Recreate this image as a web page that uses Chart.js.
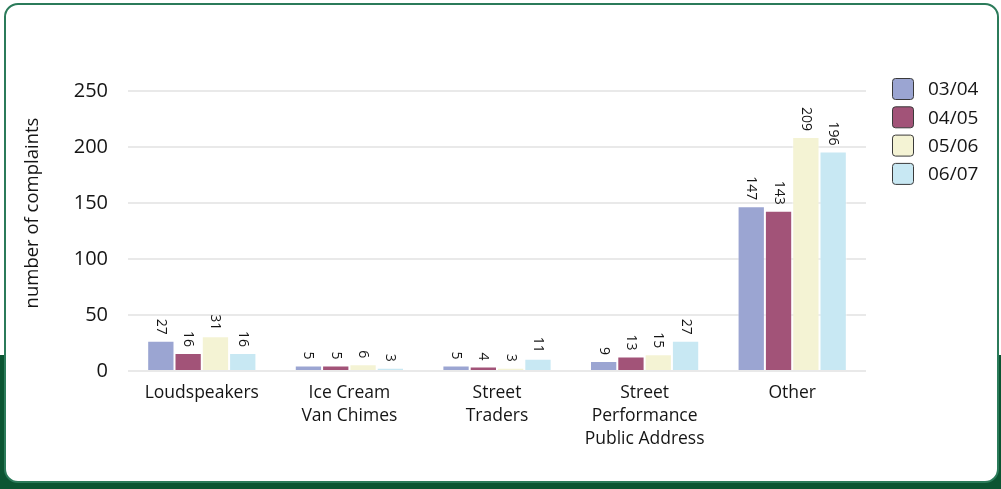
<!DOCTYPE html>
<html>
<head>
<meta charset="utf-8">
<script src="https://cdn.jsdelivr.net/npm/chart.js@4"></script>
<style>
  html, body { margin: 0; padding: 0; width: 1001px; height: 489px; background: #ffffff; overflow: hidden; }
  #band { position: absolute; left: 0; top: 355px; width: 1001px; height: 134px; background: #0b5532; }
  #card { position: absolute; left: 4px; top: 3px; width: 991px; height: 476px; background: #ffffff;
          border: 2px solid #2b7b5a; border-radius: 14px; }
  #wrap { position: absolute; left: 0; top: 0; width: 1001px; height: 489px; }
</style>
</head>
<body>
<div id="band"></div>
<div id="card"></div>
<div id="wrap"><canvas id="c" width="1001" height="489"></canvas></div>
<script>
const categories = [["Loudspeakers"], ["Ice Cream", "Van Chimes"], ["Street", "Traders"], ["Street", "Performance", "Public Address"], ["Other"]];
const seriesNames = ["03/04", "04/05", "05/06", "06/07"];
const values0304 = [27, 5, 5, 9, 147];
const values0405 = [16, 5, 4, 13, 143];
const values0506 = [31, 6, 3, 15, 209];
const values0607 = [16, 3, 11, 27, 196];
const yTicks = [0, 50, 100, 150, 200, 250];
const yTitle = "number of complaints";
const colors = ["#9ba5d2", "#a25378", "#f4f3d4", "#c8e8f3"];

const FONT = "'Open Sans', sans-serif";
const TEXT = "#151515";

const allSeries = [values0304, values0405, values0506, values0607];

const valueLabels = {
  id: 'valueLabels',
  afterDatasetsDraw(chart) {
    const ctx = chart.ctx;
    ctx.save();
    ctx.font = "14px " + FONT;
    ctx.fillStyle = TEXT;
    chart.data.datasets.forEach((ds, di) => {
      const meta = chart.getDatasetMeta(di);
      meta.data.forEach((bar, i) => {
        ctx.save();
        ctx.translate(bar.x, bar.y - 6);
        ctx.rotate(Math.PI / 2);
        ctx.textAlign = 'right';
        ctx.textBaseline = 'middle';
        ctx.fillText(String(ds.data[i]), 0, 0);
        ctx.restore();
      });
    });
    ctx.restore();
  }
};

const sideLegendAndTitle = {
  id: 'sideLegendAndTitle',
  afterDraw(chart) {
    const ctx = chart.ctx;
    ctx.save();
    const x0 = 892, y0 = 78, box = 21, step = 28.3;
    chart.data.datasets.forEach((ds, i) => {
      const y = y0 + i * step;
      ctx.beginPath();
      ctx.roundRect(x0 + 0.5, y + 0.5, box, box, 3);
      ctx.fillStyle = ds.backgroundColor;
      ctx.fill();
      ctx.lineWidth = 1;
      ctx.strokeStyle = "#3a3a3a";
      ctx.stroke();
      ctx.font = "19px " + FONT;
      ctx.fillStyle = TEXT;
      ctx.textAlign = 'left';
      ctx.textBaseline = 'middle';
      ctx.fillText(ds.label, 928, y + box / 2 + 1.5);
    });
    // y axis title
    ctx.save();
    ctx.translate(33, 213);
    ctx.rotate(-Math.PI / 2);
    ctx.font = "18.5px " + FONT;
    ctx.fillStyle = TEXT;
    ctx.textAlign = 'center';
    ctx.textBaseline = 'middle';
    ctx.fillText(yTitle, 0, 0);
    ctx.restore();
    ctx.restore();
  }
};

new Chart(document.getElementById('c'), {
  type: 'bar',
  data: {
    labels: categories,
    datasets: seriesNames.map((name, i) => ({
      label: name,
      data: allSeries[i],
      backgroundColor: colors[i],
      borderColor: 'rgba(255,255,255,0.55)',
      borderWidth: 1,
      categoryPercentage: 0.74,
      barPercentage: 1.0
    }))
  },
  options: {
    responsive: false,
    animation: false,
    devicePixelRatio: 1,
    layout: { padding: { left: 0, right: 135, top: 91, bottom: 0 } },
    plugins: { legend: { display: false }, tooltip: { enabled: false } },
    scales: {
      x: {
        grid: { display: false, drawTicks: false },
        border: { display: false },
        ticks: { color: TEXT, font: { family: FONT, size: 17.5, lineHeight: 1.33 }, padding: 10, maxRotation: 0, autoSkip: false },
        afterFit(scale) { scale.height = 118; }
      },
      y: {
        min: 0, max: 250,
        grid: { color: '#e9e9e9', lineWidth: 2, drawTicks: false },
        border: { display: false },
        afterBuildTicks(scale) { scale.ticks = yTicks.map(v => ({ value: v })); },
        ticks: { color: TEXT, font: { family: FONT, size: 20 }, padding: 20 },
        title: { display: false },
        afterFit(scale) { scale.width = 128; }
      }
    }
  },
  plugins: [valueLabels, sideLegendAndTitle]
});
</script>
</body>
</html>
